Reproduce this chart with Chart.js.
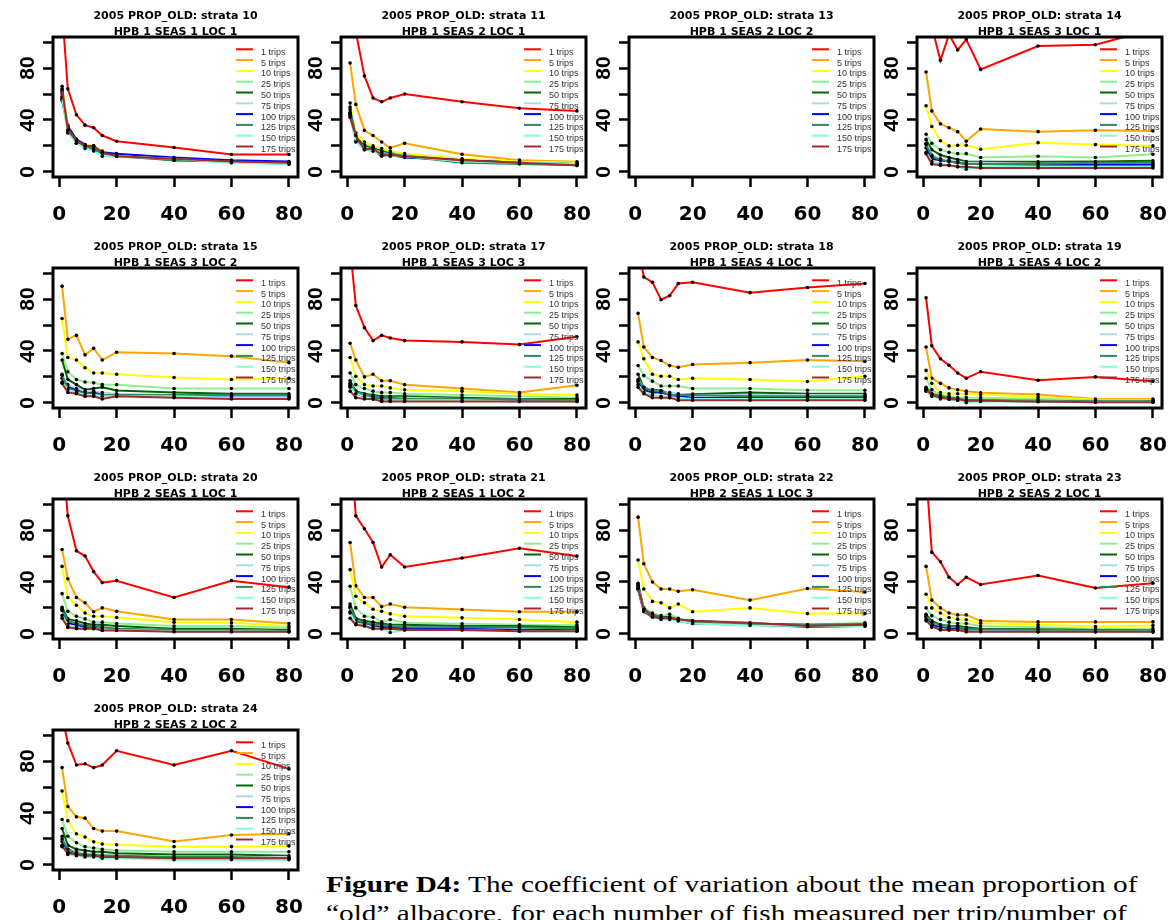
<!DOCTYPE html>
<html><head><meta charset="utf-8">
<script src="https://cdn.jsdelivr.net/npm/chart.js@4.4.1/dist/chart.umd.min.js"></script>
<style>
html,body{margin:0;padding:0;background:#fff;}
body{width:1174px;height:920px;overflow:hidden;position:relative;}
canvas{position:absolute;}
#caption{position:absolute;left:326px;top:870px;font-family:"Liberation Serif","Times New Roman",serif;font-size:24px;line-height:29px;color:#000;white-space:nowrap;transform:scaleX(1.22);transform-origin:0 0;}
</style></head><body>
<div id="caption"><b>Figure D4:</b> The coefficient of variation about the mean proportion of<br>“old” albacore, for each number of fish measured per trip/number of</div>
<script>
const xValues = [1, 3, 6, 9, 12, 15, 20, 40, 60, 80];
const seriesLabels = ['1 trips','5 trips','10 trips','25 trips','50 trips','75 trips','100 trips','125 trips','150 trips','175 trips'];
const seriesColors = ['#ff0000','#ffa500','#ffff00','#90ee90','#006400','#add8e6','#0000ff','#2e8b57','#7fffd4','#a52a2a'];
const yTickValues = [0, 20, 40, 60, 80, 100];
const yTickLabels = ['0', '', '40', '', '80', ''];
const xTickValues = [0, 20, 40, 60, 80];
const panelStrata = [10, 11, 13, 14, 15, 17, 18, 19, 20, 21, 22, 23, 24];
const panelSubtitles = ['HPB 1 SEAS 1 LOC 1','HPB 1 SEAS 2 LOC 1','HPB 1 SEAS 2 LOC 2','HPB 1 SEAS 3 LOC 1','HPB 1 SEAS 3 LOC 2','HPB 1 SEAS 3 LOC 3','HPB 1 SEAS 4 LOC 1','HPB 1 SEAS 4 LOC 2','HPB 2 SEAS 1 LOC 1','HPB 2 SEAS 1 LOC 2','HPB 2 SEAS 1 LOC 3','HPB 2 SEAS 2 LOC 1','HPB 2 SEAS 2 LOC 2'];

// one row per series (1,5,10,25,50,75,100,125,150,175 trips), values at xValues
const strata10 = [
  [125, 64, 44, 36, 34, 28, 23.6, 18.7, 13.3, 13.3],
  [66, 36, 25, 20, 19, 15, 13, 10, 8, 7],
  [63, 34, 24, 21, 20, 16, 13, 10, 8, 7],
  [60, 33, 23, 20, 19, 15, 12, 9, 8, 7],
  [58, 32, 24, 20, 19, 15, 13, 9, 8, 7],
  [56, 31, 22, 19, 17, 14, 13, 10, 7, 6],
  [55, 35, 25, 21, 17, 15, 14, 11, 9, 8],
  [62, 33, 24, 20, 18, 14, 12, 9, 8, 6],
  [57, 30, 22, 18, 16, 12, 12, 10, 7, 6],
  [64, 32, 24, 20, 20, 15, 12, 10, 8, 7]
];
const strata11 = [
  [160, 108, 74, 57, 54, 57, 60, 54, 49, 47],
  [84, 52, 32, 28, 23, 18.5, 22, 13.6, 9, 7.7],
  [53, 30, 23, 20, 18, 16, 14, 10, 8, 7],
  [50, 27, 21, 19, 16, 15, 13, 9, 7, 6],
  [48, 27, 20, 18, 16, 14, 12, 9, 7, 6],
  [46, 25, 19, 17, 15, 13, 12, 8, 7, 6],
  [45, 26, 18, 17, 12, 13, 11, 9, 7, 5],
  [44, 24, 18, 16, 14, 13, 12, 7, 6, 5],
  [43, 23, 17, 16, 13, 12, 12, 8, 7, 6],
  [42, 28, 17, 18, 13, 13, 12, 9, 7, 5]
];
const strata13 = [[], [], [], [], [], [], [], [], [], []];
const strata14 = [
  [130, 112, 86, 106, 94, 102, 79, 97, 98, 110],
  [77, 47, 37, 34, 31, 23.6, 33, 31, 32, 31.5],
  [51, 35, 24, 20, 20.5, 20.5, 17.4, 22.5, 21, 20],
  [29, 22, 17, 15, 14, 14, 11, 12, 11, 13.6],
  [25, 17, 13, 11, 9.5, 8, 7.7, 7.7, 8, 8.5],
  [22, 13, 10, 9, 8, 7, 7, 6, 6, 6],
  [18.5, 10, 9, 8, 7, 6, 6, 5.5, 5.5, 5.5],
  [21, 12, 9, 8, 7, 6, 6, 6, 7, 7],
  [15, 8, 6, 5, 4, 2, 4, 4, 4, 4],
  [14, 6, 5, 5, 4, 4, 3, 3, 3, 3]
];
const strata15 = [
  [],
  [90, 49, 52, 37, 42, 33, 39, 38, 36, 31],
  [65, 35, 33, 27, 23, 23, 22, 19.5, 18, 19],
  [38, 24, 18, 16, 15.4, 14, 14, 11, 11, 11],
  [33, 18, 14, 10, 11, 12, 9.5, 8, 7, 7],
  [22, 14, 11, 9, 9, 8, 7, 6, 5, 5],
  [19, 12, 10, 7, 8, 6, 6, 5, 4, 4],
  [21, 11, 9, 7, 7, 6, 6, 6, 6, 6],
  [16, 10, 8, 6, 6, 5, 5, 5, 4, 4],
  [15, 8, 7, 5, 5, 3, 5, 4, 3, 3]
];
const strata17 = [
  [120, 75, 58, 48, 52, 50, 48, 47, 45, 51],
  [46, 33, 20, 22, 17, 17, 14, 11, 8, 13.6],
  [35, 20.5, 14, 13, 13, 11.5, 10, 9, 7, 6],
  [23, 14, 11, 9, 8, 8, 7, 6, 5, 4],
  [17, 9, 7, 6, 5, 5, 5, 4, 3, 3],
  [15, 8, 6, 5, 4, 4, 4, 3, 2, 2],
  [14, 7, 5, 4, 3, 2, 2, 2, 2, 2],
  [13, 9, 6, 5, 4, 4, 3, 3, 3, 2],
  [12, 7, 5, 3, 2, 2, 2, 2, 1, 1],
  [9, 4, 3, 3, 1, 1, 1, 1, 1, 1]
];
const strata18 = [
  [120, 97, 93, 79.5, 82.6, 92, 93, 85, 89, 92],
  [69, 43, 35, 32.6, 28.7, 27.4, 29.5, 31, 33, 32],
  [47, 34, 22, 20.5, 20.5, 18, 19, 18, 16.4, 20.5],
  [28.7, 21, 16.7, 13, 13, 13, 11, 11, 9.7, 9.7],
  [22, 11.5, 10, 9.5, 7, 6.4, 6.7, 8, 7, 7],
  [18, 12, 10, 8, 8, 7, 6, 6, 6, 6],
  [16, 10, 8, 8, 6, 5, 4, 4, 4, 4],
  [17, 12, 9, 9, 6, 6, 6, 5, 5, 5],
  [14, 8, 6, 5, 4, 4, 3, 3, 3, 3],
  [12, 7, 4, 4, 4, 2, 2, 2, 2, 2]
];
const strata19 = [
  [81, 44, 34, 29, 23, 19, 24, 17.4, 20, 16.7],
  [43, 19, 15, 11.5, 10, 9, 7.7, 6.4, 3, 3],
  [25, 15, 8, 7, 7, 7, 6.4, 4.4, 2.3, 2.3],
  [19, 10, 6, 5, 4, 4, 4, 3, 2, 2],
  [12, 7, 5, 4, 3, 2, 2, 1.5, 1, 1],
  [11, 6, 4, 3, 2, 1.5, 1.5, 1, 1, 1],
  [10, 6, 4, 3, 2, 1.5, 1.5, 1, 0.8, 0.8],
  [11, 7, 5, 4, 3, 2, 2, 1, 1, 1],
  [9, 5, 3, 3, 2, 0, 1, 1, 0.5, 0.5],
  [10, 6, 4, 3, 3, 1.5, 1.5, 1, 0.5, 0.5]
];
const strata20 = [
  [140, 91, 64, 60, 48, 39.5, 41, 28, 41, 36],
  [65, 42.5, 28, 24, 17, 20, 17.4, 11, 11, 8],
  [52, 28, 22, 16, 13.6, 13.6, 12.6, 9, 8.5, 6],
  [31, 17.4, 13.6, 11.5, 9, 9, 8, 6, 6, 4.6],
  [20.5, 11.5, 10, 8, 7, 7, 6, 4, 4, 3],
  [19, 9, 7, 6, 5, 5, 4, 3, 3, 2],
  [19, 8, 7, 5, 5, 3, 3, 2, 2, 2],
  [18, 10, 8, 6, 6, 5, 4, 3, 3, 2],
  [14, 7, 5, 4, 4, 3, 3, 2, 2, 1.5],
  [12, 5, 4, 4, 4, 2.5, 2.5, 1.5, 1.5, 1.5]
];
const strata21 = [
  [150, 91, 81, 70.5, 51.5, 61, 51.5, 58.5, 66, 60],
  [70.5, 37, 28, 28, 21, 23, 20.5, 18.7, 17, 17],
  [49.5, 29, 24, 19, 17.4, 15.4, 13.6, 12.3, 11, 9],
  [36.7, 20, 13.6, 12.8, 9.2, 11, 8.5, 7.7, 7, 6.7],
  [23, 12, 10, 9, 8, 7, 7, 6, 6, 5],
  [20, 10, 8, 7, 6, 6, 5, 4, 4, 4],
  [17, 9, 8, 6, 5, 5, 4, 4, 3, 3],
  [21, 10, 9, 7, 7, 6, 5, 5, 5, 4],
  [16, 8, 7, 5, 4, 1, 3, 3, 2, 2],
  [12, 7, 6, 4, 4, 4, 3, 3, 2, 2]
];
const strata22 = [
  [],
  [90, 54, 40, 34.6, 34.6, 32.8, 34, 26, 35, 32.3],
  [57, 34.6, 25, 24, 20, 23, 17, 20, 15.6, 15.6],
  [38, 20, 16, 14, 15, 12, 9, 8, 7, 8.5],
  [39, 19, 14, 13, 13, 11, 10, 8, 7, 7],
  [37, 18, 14, 12, 12, 11, 9, 7, 6, 6],
  [34, 17, 13, 13, 12, 10, 8, 7, 5.5, 6],
  [36, 19, 15, 13, 12, 11, 9, 7, 7, 7.5],
  [35, 18, 13, 11, 11, 10, 8, 6.5, 6, 6],
  [35, 19, 13, 12, 12, 11, 10, 8.5, 6, 7]
];
const strata23 = [
  [125, 63, 55.6, 43.6, 38, 43.6, 38, 45, 35.4, 39],
  [52, 26, 20, 16, 14.6, 14.6, 10, 9.2, 9.2, 9.2],
  [30.5, 20, 16, 12.6, 11.3, 10.8, 8.2, 7, 5.6, 6.4],
  [20, 14, 11, 9, 8, 8, 6, 5, 4, 4],
  [15, 10, 7, 6, 6, 5, 4, 3.5, 3, 2.5],
  [13, 8, 6, 5, 4, 4, 3, 2.5, 2, 2],
  [13, 7, 5, 4, 3.5, 3, 2.5, 2, 2, 1.5],
  [14, 9, 7, 6, 5, 4, 3.5, 3, 2.5, 2.5],
  [11, 5, 4, 3, 3, 2, 2, 1.5, 1.5, 1.5],
  [10, 6, 3, 3, 3, 1.5, 1.5, 1.5, 1.5, 1.5]
];
const strata24 = [
  [115, 94, 77, 78, 75, 77, 88, 77, 88, 74],
  [75, 45, 37, 36, 28, 26, 26, 18, 23, 24],
  [57, 34, 24, 21.5, 17.7, 16, 15.4, 14, 14, 14.6],
  [35, 22, 17, 14, 13, 12, 11, 10, 10, 10],
  [28, 15, 12, 11, 10, 10, 9, 8, 8, 7],
  [22, 12, 10, 9, 8, 8, 7, 6, 6, 6],
  [18, 10, 8, 7, 7, 6, 6, 5, 5, 5],
  [20, 12, 9, 8, 8, 7, 7, 6, 6, 5],
  [15, 8, 7, 6, 6, 5, 5, 4, 4, 4],
  [14, 9, 8, 7, 7, 6, 6, 5, 5, 5]
];
const panelSeries = [strata10, strata11, strata13, strata14, strata15, strata17, strata18, strata19, strata20, strata21, strata22, strata23, strata24];

const frameAndLegend = {
  id: 'frameAndLegend',
  afterDraw(chart) {
    const ctx = chart.ctx, a = chart.chartArea;
    ctx.save();
    ctx.lineWidth = 3;
    ctx.strokeStyle = '#000';
    ctx.strokeRect(a.left, a.top, a.right - a.left, a.bottom - a.top);
    ctx.font = '9px "Liberation Sans", Arial, sans-serif';
    ctx.textBaseline = 'middle';
    ctx.textAlign = 'left';
    chart.data.datasets.forEach((ds, i) => {
      const y = a.top + 12.3 + i * 10.8;
      ctx.strokeStyle = ds.borderColor;
      ctx.lineWidth = 2;
      ctx.beginPath();
      ctx.moveTo(a.right - 62, y);
      ctx.lineTo(a.right - 45, y);
      ctx.stroke();
      ctx.fillStyle = '#333';
      ctx.fillText(ds.label, a.right - 37, y + 3);
    });
    ctx.restore();
  }
};

function makePanel(idx) {
  const col = idx % 4, row = Math.floor(idx / 4);
  const cv = document.createElement('canvas');
  cv.width = 351; cv.height = 231;
  cv.style.left = (288 * col) + 'px';
  cv.style.top = (231 * row) + 'px';
  document.body.appendChild(cv);
  const series = panelSeries[idx];
  const datasets = seriesLabels.map((lab, i) => ({
    label: lab,
    data: (series[i] || []).map((v, j) => ({ x: xValues[j], y: v })),
    borderColor: seriesColors[i],
    backgroundColor: seriesColors[i],
    borderWidth: 2,
    pointRadius: 1.8,
    pointBackgroundColor: '#000',
    pointBorderWidth: 0,
    pointHoverRadius: 0,
    tension: 0,
    fill: false,
    order: -i
  }));
  const grid = { drawOnChartArea: false, drawTicks: true, tickLength: 10, tickWidth: 2.5, tickColor: '#000' };
  new Chart(cv, {
    type: 'line',
    data: { datasets },
    plugins: [frameAndLegend],
    options: {
      responsive: false,
      animation: false,
      devicePixelRatio: 1,
      events: [],
      layout: { padding: 0 },
      plugins: {
        legend: { display: false },
        tooltip: { enabled: false },
        title: {
          display: true,
          text: ['2005 PROP_OLD: strata ' + panelStrata[idx], panelSubtitles[idx]],
          color: '#000',
          font: { family: '"DejaVu Sans", sans-serif', size: 11, weight: 'bold', lineHeight: 1.5 },
          padding: { top: 7.5, bottom: -3.5 }
        }
      },
      scales: {
        x: {
          type: 'linear', min: -2.16, max: 83.16,
          afterBuildTicks: s => { s.ticks = xTickValues.map(v => ({ value: v })); },
          afterFit: s => { s.height = 54; },
          grid: grid,
          border: { display: false },
          ticks: {
            autoSkip: false, minRotation: 0, maxRotation: 0, padding: 16, color: '#000',
            font: { family: '"DejaVu Sans", sans-serif', size: 20, weight: 'bold' },
            callback: v => String(v)
          }
        },
        y: {
          type: 'linear', min: -4, max: 104,
          afterBuildTicks: s => { s.ticks = yTickValues.map(v => ({ value: v })); },
          afterFit: s => { s.width = 53; },
          grid: grid,
          border: { display: false },
          ticks: {
            autoSkip: false, minRotation: 90, maxRotation: 90, crossAlign: 'center', padding: 3, color: '#000',
            font: { family: '"Liberation Sans Narrow", "Liberation Sans", sans-serif', size: 21, weight: 'bold' },
            callback: v => { const k = yTickValues.indexOf(v); return k >= 0 ? yTickLabels[k] : ''; }
          }
        },
        yRightSpacer: {
          type: 'linear', position: 'right', axis: 'y', min: -4, max: 104,
          grid: { display: false, drawTicks: false },
          border: { display: false },
          ticks: { display: false },
          afterFit: s => { s.width = 53; }
        }
      }
    }
  });
}
for (let i = 0; i < panelSeries.length; i++) makePanel(i);
</script>
</body></html>
